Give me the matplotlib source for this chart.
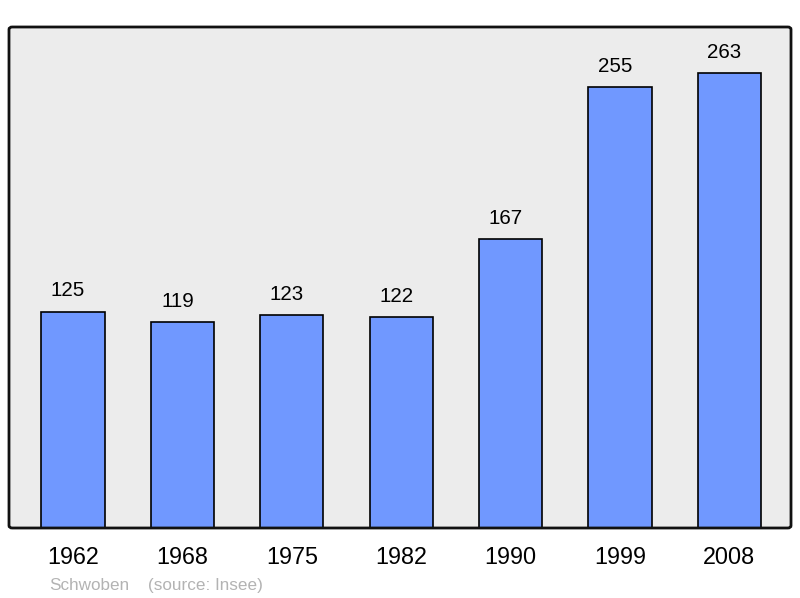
import matplotlib.pyplot as plt
from matplotlib.patches import FancyBboxPatch

# population data
years = ["1962", "1968", "1975", "1982", "1990", "1999", "2008"]
population = [125, 119, 123, 122, 167, 255, 263]

plt.rcParams['font.family'] = ['Liberation Sans', 'DejaVu Sans']

fig = plt.figure(figsize=(8, 5.98), dpi=100)
ax = fig.add_axes([9 / 800, 70 / 598, 782 / 800, 501 / 598])
ax.set_facecolor('#ececec')

x = list(range(len(years)))
bars = ax.bar(x, population, width=0.576, color='#7098ff',
              edgecolor='black', linewidth=1.2, zorder=2)

# value labels sit a little left of bar centre, as in the original
for xi, v in zip(x, population):
    ax.annotate(str(v), (xi, v), xytext=(-3.6, 11), textcoords='offset points',
                ha='center', va='baseline', fontsize=14.8)

for xi, y in zip(x, years):
    ax.text(xi, -0.0719, y, transform=ax.get_xaxis_transform(),
            ha='center', va='baseline', fontsize=16.8)

ax.set_xlim(-0.585, 6.563)
ax.set_ylim(0, 289.6)
ax.set_xticks([])
ax.set_yticks([])
for s in ax.spines.values():
    s.set_visible(False)

# rounded frame around the plot area
frame = FancyBboxPatch((9 / 800, 70 / 598), 782 / 800, 501 / 598,
                       boxstyle="round,pad=0,rounding_size=0.004",
                       transform=fig.transFigure, facecolor='none',
                       edgecolor='#111111', linewidth=2, zorder=5)
fig.patches.append(frame)

fig.text(49 / 800, 1 - 590 / 598, "Schwoben", color='#b3b3b3',
         fontsize=12.3, va='baseline')
fig.text(148 / 800, 1 - 590 / 598, "(source: Insee)", color='#b3b3b3',
         fontsize=12.3, va='baseline')

fig.savefig('out.png', dpi=100, facecolor='white')
